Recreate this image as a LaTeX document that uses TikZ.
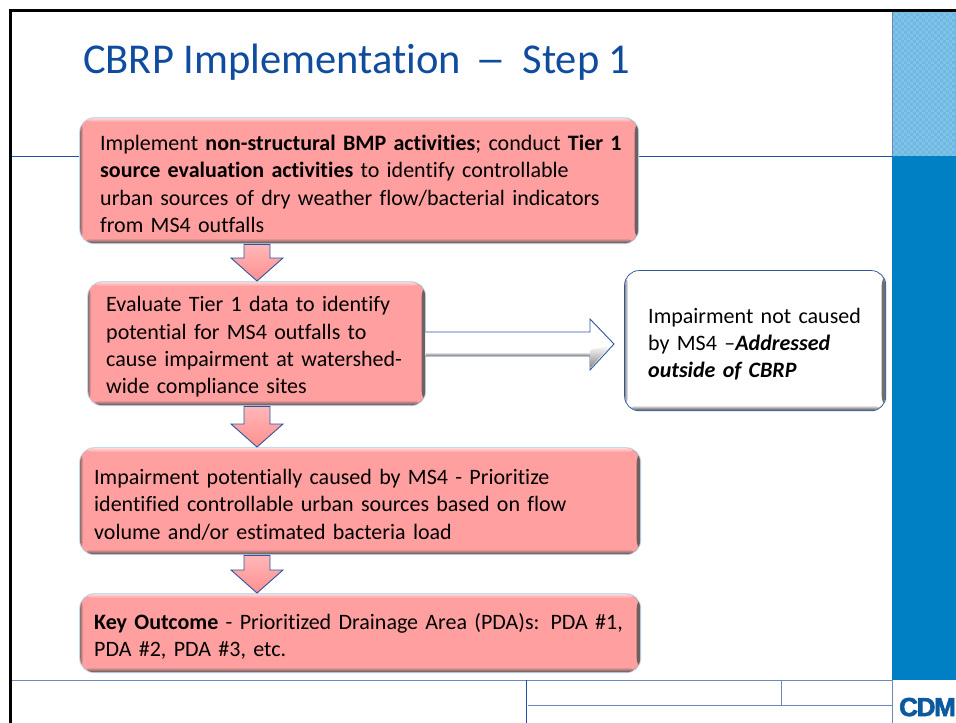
\documentclass[tikz,border=0pt]{standalone}
\usepackage{fontspec}
\setmainfont[Ligatures=NoCommon]{Carlito}
\newfontfamily\cdmfont[FakeBold=2.5]{Liberation Sans Bold}
\usetikzlibrary{calc}
\definecolor{pinkfill}{HTML}{FF9F9F}
\definecolor{glowblue}{HTML}{BCDDF0}
\definecolor{edgeblue}{HTML}{2F55A0}
\definecolor{linkblue}{HTML}{1F50A8}
\definecolor{titleblue}{HTML}{0F4C9E}
\definecolor{panelblue}{HTML}{0080C4}
\definecolor{panellight}{HTML}{6FB8E2}
\definecolor{panelcheck}{HTML}{80C2E8}
\definecolor{logoblue}{HTML}{0B5AA0}
\definecolor{bevelgrey}{HTML}{555555}
\tikzset{
  x=1pt,y=-1pt,
  rule/.style={draw=linkblue,line width=0.9pt},
  softrule/.style={draw=edgeblue!70,line width=1pt},
  bevel/.style n args={2}{rounded corners=14pt,draw=none,
    preaction={draw=#1,line width=2pt},
    fill=#2,anchor=north west,inner ysep=0pt,align=left,
    font=\fontsize{22}{27.3}\selectfont,
    path picture={
      \shade[left color=#2,right color=bevelgrey!85!#2]
        ([xshift=-3.5pt]path picture bounding box.south east) rectangle (path picture bounding box.north east);
      \shade[top color=#2,bottom color=bevelgrey]
        ([yshift=5pt]path picture bounding box.south west) rectangle (path picture bounding box.south east);
      \shade[top color=white!55!#2,bottom color=#2]
        (path picture bounding box.north west) rectangle ([yshift=-4pt]path picture bounding box.north east);
      \shade[left color=bevelgrey!60!#2,right color=#2]
        (path picture bounding box.south west) rectangle ([xshift=3pt]path picture bounding box.north west);
    }},
  pinkbox/.style={bevel={glowblue}{pinkfill}},
  whitebox/.style={bevel={edgeblue}{white}},
  blockdown/.style={draw=edgeblue,line width=0.9pt,line join=miter,top color=pinkfill!75!white,bottom color=pinkfill!90!red},
  blockright/.style={draw=edgeblue,line width=0.9pt,line join=miter,fill=white},
}
\newcommand{\downblock}[3]{%
  \path[blockdown] let \p1=(#1.south -| #3,0), \p2=(#2.north -| #3,0) in
    (\x1-13pt,\y1-1pt) -- (\x1+13pt,\y1-1pt) -- (\x1+13pt,\y2+24pt) -- (\x1+26pt,\y2+24pt)
      -- (\x2,\y2+1pt) -- (\x1-26pt,\y2+24pt) -- (\x1-13pt,\y2+24pt) -- cycle;
}
\newcommand{\drop}{\rule{0pt}{22pt}}
\begin{document}
\begin{tikzpicture}
\useasboundingbox (0,0) rectangle (956,723);
\fill[white] (0,0) rectangle (956,723);
% right-hand panel
\fill[panellight] (892,10) rectangle (956,156);
\foreach \i in {0,...,20}{
  \foreach \j in {0,...,48}{
    \pgfmathtruncatemacro{\chk}{mod(\i+\j,2)}
    \ifnum\chk=0
      \fill[panelcheck] (892+\i*3,10+\j*3) rectangle ++(3,3);
    \fi
  }
}
\fill[panelblue] (892,156) rectangle (956,680);
% rules
\draw[rule] (10,156) -- (892,156);
\draw[softrule] (892,10) -- (892,156);
\draw[softrule] (10,680) -- (892,680);
\draw[rule] (526,680) -- (526,723);
\draw[softrule] (528,705) -- (892,705);
\draw[softrule] (781,680) -- (781,705);
\draw[softrule] (892,680) -- (892,723);
% frame
\draw[black,line width=2.6pt] (10.5,723) -- (10.5,10.5) -- (956,10.5);
% title
\node[anchor=base west,inner sep=0pt,text=titleblue,font=\fontsize{42.5}{44}\selectfont] (title) at (83,73.5) {CBRP Implementation\hspace{15pt}\scalebox{1.45}[1]{–}\hspace{16pt}Step 1};
% boxes
\node[pinkbox,minimum width=558,minimum height=125,inner xsep=20,text width=518] (b1) at (80,118)
 {\drop\mbox{Implement \textbf{non-structural BMP activities}; conduct \textbf{Tier 1}}\\\textbf{source evaluation activities} to identify controllable\\urban sources of dry weather flow/bacterial indicators\\from MS4 outfalls};
\node[pinkbox,minimum width=337,minimum height=123,inner xsep=18,text width=301] (b2) at (88,282)
 {\drop Evaluate Tier 1 data to identify\\potential for MS4 outfalls to\\cause impairment at watershed-\\wide compliance sites};
\node[pinkbox,minimum width=560,minimum height=106,inner xsep=14,text width=532] (b3) at (80,448)
 {\drop Impairment potentially caused by MS4 - Prioritize\\identified controllable urban sources based on flow\\volume and/or estimated bacteria load};
\node[pinkbox,minimum width=560,minimum height=78,inner xsep=14,text width=532] (b4) at (80,594)
 {\drop\textbf{Key Outcome} - Prioritized Drainage Area (PDA)s:  PDA \#1,\\PDA \#2, PDA \#3, etc.};
\node[whitebox,minimum width=260,minimum height=139,inner xsep=23,text width=214] (w) at (625,271)
 {\drop Impairment not caused\\by MS4 –\textbf{\textit{Addressed}}\\\textbf{\textit{outside of CBRP}}};
% block arrows
\downblock{b1}{b2}{257}
\downblock{b2}{b3}{257}
\downblock{b3}{b4}{257}
\path[blockright] let \p1=(b2.east |- 0,344), \p2=(w.west |- 0,344) in
  (\x1,\y1+12pt) -- (\x2-35pt,\y1+12pt) -- (\x2-35pt,\y1+25pt) -- (\x2-11pt,\y1)
   -- (\x2-35pt,\y1-26pt) -- (\x2-35pt,\y1-12pt) -- (\x1,\y1-12pt);
\path[top color=white,bottom color=bevelgrey!70] let \p1=(b2.east |- 0,344), \p2=(w.west |- 0,344) in
  (\x1+.5pt,\y1-8pt) rectangle (\x2-35.5pt,\y1-11.5pt);
\path[top color=white,bottom color=bevelgrey!70] let \p1=(w.west |- 0,344) in
  (\x1-34.5pt,\y1-24pt) -- (\x1-34.5pt,\y1-6pt) -- (\x1-14pt,\y1-1pt) -- cycle;
% logo
\node[anchor=base east,inner sep=0pt,text=logoblue,font=\fontsize{26}{26}\cdmfont] (logo) at (956,716) {\addfontfeature{LetterSpace=-5}CDM};
\end{tikzpicture}
\end{document}
